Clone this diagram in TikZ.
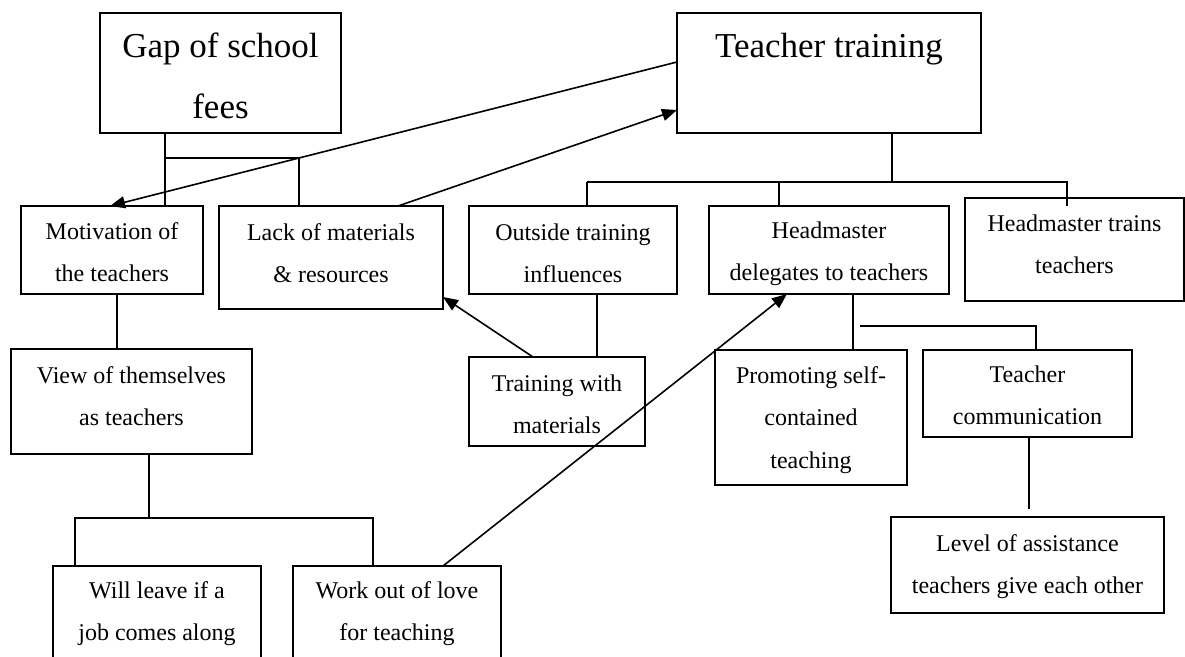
\documentclass[tikz,border=0pt]{standalone}
\usepackage{fontspec}
\setmainfont{Liberation Serif}
\usetikzlibrary{arrows.meta}
\tikzset{
  boxst/.style={draw, line width=0.8pt, inner sep=0pt, outer sep=0pt},
  smalltxt/.style={font=\fontsize{12}{21.25}\selectfont, align=center, inner sep=0pt},
  bigtxt/.style={font=\fontsize{17.5}{30.5}\selectfont, align=center, inner sep=0pt},
  conn/.style={line width=0.8pt},
  arr/.style={line width=0.8pt, -{Triangle[length=7.5pt,width=6pt]}}
}
% name, x1, y1, x2, y2, baseline, ascent(px), style, text
\newcommand\mkbox[9]{%
  \node[boxst, minimum width={(#4-#2)*0.5pt}, minimum height={(#5-#3)*0.5pt}] (#1) at ({(#2+#4)/2},{(#3+#5)/2}) {};
  \node[#8, anchor=north] (#1-t) at ({(#2+#4)/2},{#6-#7}) {\rule{0pt}{0.75em}#9};
}
\begin{document}
\begin{tikzpicture}[x=0.5pt,y=-0.5pt]
\useasboundingbox (0,0) rectangle (1185,657);
\clip (0,0) rectangle (1185,657);
\mkbox{gap}{100}{13}{341}{133}{57}{26.25}{bigtxt}{Gap of school\\fees}
\mkbox{tt}{677}{13}{981}{133}{57}{26.25}{bigtxt}{Teacher training}
\mkbox{mot}{21}{206}{203}{294}{239}{18}{smalltxt}{Motivation of\\the teachers}
\mkbox{lack}{219}{206}{443}{309}{240}{18}{smalltxt}{Lack of materials\\\& resources}
\mkbox{out}{469}{206}{677}{294}{240}{18}{smalltxt}{Outside training\\influences}
\mkbox{hd}{709}{206}{949}{294}{238}{18}{smalltxt}{Headmaster\\delegates to teachers}
\mkbox{ht}{965}{198}{1184}{301}{231}{18}{smalltxt}{Headmaster trains\\teachers}
\mkbox{view}{11}{349}{252}{454}{383}{18}{smalltxt}{View of themselves\\as teachers}
\mkbox{twm}{469}{357}{645}{446}{391}{18}{smalltxt}{Training with\\materials}
\mkbox{prom}{715}{350}{907}{485}{383}{18}{smalltxt}{Promoting self-\\contained\\teaching}
\mkbox{tc}{923}{350}{1132}{437}{382}{18}{smalltxt}{Teacher\\communication}
\mkbox{lvl}{891}{517}{1164}{613}{551}{18}{smalltxt}{Level of assistance\\teachers give each other}
\mkbox{will}{53}{566}{261}{700}{598}{18}{smalltxt}{Will leave if a\\job comes along}
\mkbox{work}{293}{566}{501}{700}{598}{18}{smalltxt}{Work out of love\\for teaching}

% junction coordinates
\coordinate (g1) at (165,158);
\coordinate (g2) at (299,158);
\coordinate (t0) at (892,182);
\coordinate (t1) at (587,182);
\coordinate (t2) at (779,182);
\coordinate (t3) at (1067,182);
\coordinate (t3e) at (1067,206);
\coordinate (v0) at (149,518);
\coordinate (v1) at (75,518);
\coordinate (v2) at (373,518);
\coordinate (h1) at (860,326);
\coordinate (h2) at (1036,326);
\coordinate (c1) at (1029,509);

% Gap tree
\draw[conn] (gap.south -| g1) -- (mot.north -| g1);
\draw[conn] (g1) -- (g2) -- (lack.north -| g2);
% Teacher training tree
\draw[conn] (tt.south -| t0) -- (t0);
\draw[conn] (t1) -- (t3) -- (t3e);
\draw[conn] (t1) -- (out.north -| t1);
\draw[conn] (t2) -- (hd.north -| t2);
% Motivation -> View
\draw[conn] (mot.south -| 117,0) -- (view.north -| 117,0);
% View tree
\draw[conn] (view.south -| v0) -- (v0);
\draw[conn] (will.north -| v1) -- (v1) -- (v2) -- (work.north -| v2);
% Outside -> Training with materials
\draw[conn] (out.south -| 597,0) -- (twm.north -| 597,0);
% Headmaster delegates tree
\draw[conn] (hd.south -| 853,0) -- (prom.north -| 853,0);
\draw[conn] (h1) -- (h2) -- (tc.north -| h2);
% Teacher communication -> level
\draw[conn] (tc.south -| c1) -- (c1);

% arrows
\draw[arr] (tt.west |- 0,62) -- (mot.north -| 110,0);
\draw[arr] (lack.north -| 398,0) -- (tt.west |- 0,110);
\draw[arr] (twm.north -| 533,0) -- (lack.east |- 0,297);
\draw[arr] (work.north -| 443,0) -- (hd.south -| 787,0);
\end{tikzpicture}
\end{document}
